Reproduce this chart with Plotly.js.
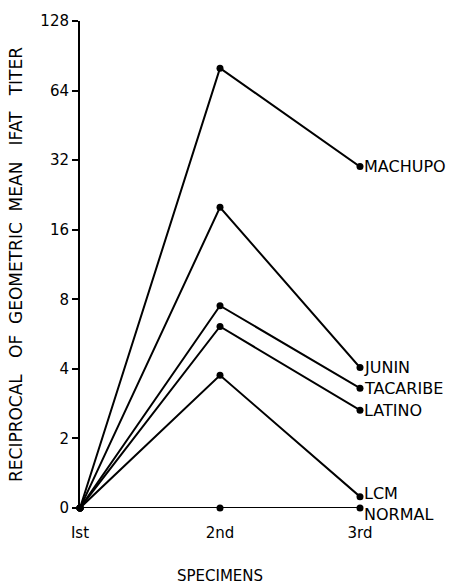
<!DOCTYPE html>
<html>
<head>
<meta charset="utf-8">
<script src="https://cdn.plot.ly/plotly-3.0.1.min.js"></script>
<style>html,body{margin:0;padding:0;background:#fff;}#chart{width:452px;height:585px;}</style>
</head>
<body>
<div id="chart"></div>
<script>
// Specimen categories
const specimens = ["Ist", "2nd", "3rd"];
const specimenPos = [1, 2, 3];
// Reciprocal geometric mean IFAT titers (baseline "0" drawn at 1 on the log scale)
const machupo  = [1, 80, 30];
const junin    = [1, 20, 4.05];
const tacaribe = [1, 7.5, 3.3];
const latino   = [1, 6.1, 2.65];
const lcm      = [1, 3.75, 1.12];
const normal   = [1, 1, 1];
const seriesNames = ["MACHUPO", "JUNIN", "TACARIBE", "LATINO", "LCM", "NORMAL"];
const seriesData = [machupo, junin, tacaribe, latino, lcm, normal];
// Y tick values and labels
const yTickVals = [1, 2, 4, 8, 16, 32, 64, 128];
const yTickText = ["0", "2", "4", "8", "16", "32", "64", "128"];

const FONT = "DejaVu Sans, Liberation Sans, sans-serif";
const labelShift = {"MACHUPO": 0, "JUNIN": 0, "TACARIBE": 0, "LATINO": 0, "LCM": 3, "NORMAL": -6};

const traces = seriesData.map((d, i) => ({
  x: specimenPos, y: d, name: seriesNames[i],
  type: "scatter", mode: "lines+markers", cliponaxis: false,
  line: {color: "#000", width: 2},
  marker: {color: "#000", size: 7},
  showlegend: false, hoverinfo: "skip"
}));

const annotations = seriesData.map((d, i) => ({
  x: specimenPos[2], y: Math.log10(d[2]), xref: "x", yref: "y",
  text: seriesNames[i], showarrow: false, xanchor: "left", yanchor: "middle",
  xshift: 2, yshift: labelShift[seriesNames[i]],
  font: {family: FONT, size: 16, color: "#000"}
}));

const layout = {
  width: 452, height: 585,
  margin: {l: 80, r: 92, t: 21, b: 77},
  paper_bgcolor: "#fff", plot_bgcolor: "#fff",
  xaxis: {
    range: [1, 3], tickvals: specimenPos, ticktext: specimens,
    showgrid: false, zeroline: false, showline: false, ticks: "",
    ticklabelstandoff: 14,
    tickfont: {family: FONT, size: 15, color: "#000"},
    title: {text: "SPECIMENS", font: {family: FONT, size: 15, color: "#000"}, standoff: 30},
    automargin: false
  },
  yaxis: {
    type: "log", range: [0, Math.log10(128)],
    tickvals: yTickVals, ticktext: yTickText,
    showgrid: false, zeroline: false, showline: true, linecolor: "#000", linewidth: 2,
    ticks: "outside", ticklen: 6, tickwidth: 2, tickcolor: "#000",
    tickfont: {family: FONT, size: 15, color: "#000"},
    title: {text: "RECIPROCAL   OF  GEOMETRIC  MEAN   IFAT   TITER", font: {family: FONT, size: 17, color: "#000"}, standoff: 13},
    automargin: false
  },
  annotations: annotations
};

Plotly.newPlot("chart", traces, layout, {staticPlot: true, displayModeBar: false});
</script>
</body>
</html>
